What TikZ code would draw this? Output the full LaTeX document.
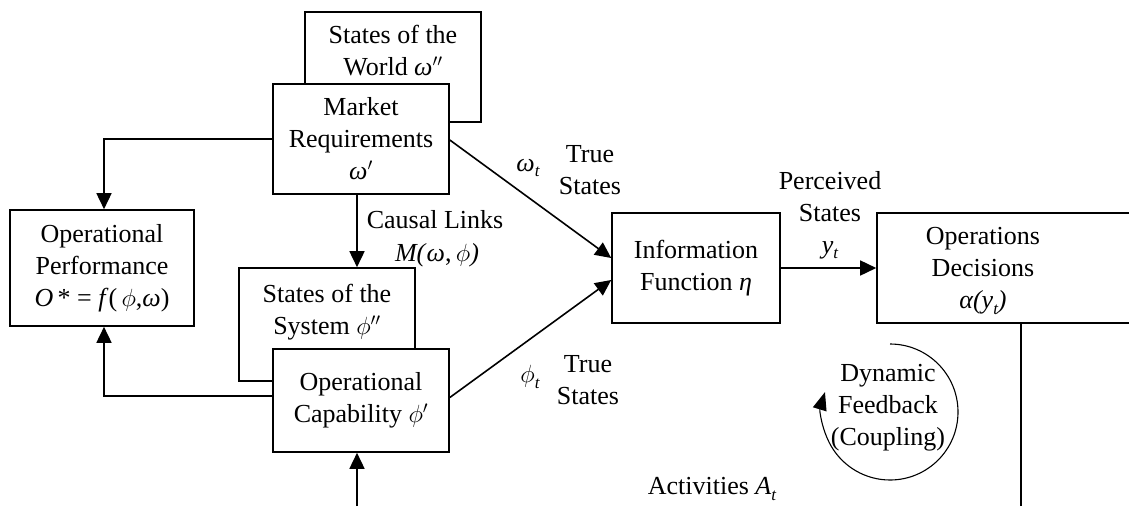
\documentclass[tikz,border=0pt]{standalone}
\usepackage{fontspec}
\setmainfont{Liberation Serif}
\usetikzlibrary{arrows.meta}
% italic Greek and Latin symbols set in the text face
\newcommand{\gw}{\textit{ω}}
\newcommand{\lowidx}[1]{\raisebox{-0.22em}{\fontsize{17pt}{17pt}\selectfont\itshape #1}}
\begin{document}
\begin{tikzpicture}[x=1pt,y=-1pt,
  font=\fontsize{26pt}{32pt}\selectfont,
  box/.style={draw, line width=1.6pt, fill=white, inner sep=0pt, align=center},
  txt/.style={inner sep=0pt, align=center},
  link/.style={line width=1.6pt},
  arr/.style={line width=1.6pt, -{Triangle[length=16pt,width=15pt]}}]
\useasboundingbox (0,0) rectangle (1129,506);

% world and market requirements (market box overlaps the world box)
\node[box, minimum width=176pt, minimum height=110pt] (world) at (393,67) {};
\node[txt] (worldtxt) at (393,51) {States of the\\World \gw$''$};
\node[box, minimum width=176pt, minimum height=110pt] (market) at (361,139)
  {Market\\Requirements\\\gw$'$};

% operational performance
\node[box, minimum width=184pt, minimum height=116pt] (perf) at (102,268)
  {Operational\\Performance\\\textit{O}\,* = \textit{f}(\,$\phi$,\gw)};

% system states and operational capability (capability box overlaps)
\node[box, minimum width=176pt, minimum height=113pt] (sys) at (327,324.5) {};
\node[txt] (systxt) at (327,312) {States of the\\System $\phi''$};
\node[box, minimum width=176pt, minimum height=103pt] (cap) at (361,400.5)
  {Operational\\Capability $\phi'$};

% information function and decisions
\node[box, minimum width=168pt, minimum height=110pt] (info) at (696,268)
  {Information\\Function \textit{η}};
\node[box, minimum width=263pt, minimum height=110pt] (dec) at (1008.5,268) {};
\node[txt] (dectxt) at (983,271) {Operations\\Decisions\\\textit{α(y}\lowidx{t}\textit{)}};

% free ends at the lower edge
\coordinate (capin) at (357,506);
\coordinate (decout) at (1021,506);

% connectors
\draw[arr] (market.west) -| ([xshift=2pt]perf.north);
\draw[arr] ([xshift=-4pt]market.south) -- ([xshift=-4pt]market.south |- sys.north);
\draw[arr] ([yshift=4.5pt]cap.west) -| ([xshift=2pt]perf.south);
\draw[arr] (capin) -- (capin |- cap.south);
\draw[arr] ([yshift=-1pt]market.east) -- ([yshift=10pt]info.west);
\draw[arr] ([yshift=3pt]cap.east) -- ([yshift=-12pt]info.west);
\draw[arr] (info.east) -- (dec.west);
\draw[link] (decout) -- (decout |- dec.south);

% connector labels
\node[txt] (omegat) at (528,168) {\gw\lowidx{t}};
\node[txt] (true1) at (590,170) {True\\States};
\node[txt] (causal) at (435,220) {Causal Links};
\node[txt] (mlink) at (437,255) {\textit{M(}\gw,\,$\phi$\textit{)}};
\node[txt] (phit) at (530,377) {$\phi$\lowidx{t}};
\node[txt] (true2) at (588,380) {True\\States};
\node[txt] (perceived) at (830,215) {Perceived\\States\\\textit{y}\lowidx{t}};
\node[txt] (activities) at (712,489) {Activities \textit{A}\lowidx{t}};

% dynamic feedback loop
\node[txt] (feedback) at (888,408) {Dynamic\\Feedback\\(Coupling)};
\draw[line width=1.1pt, -{Triangle[length=18pt,width=14pt]}]
  (890,344) arc[start angle=-90, end angle=197, radius=68];
\end{tikzpicture}
\end{document}
